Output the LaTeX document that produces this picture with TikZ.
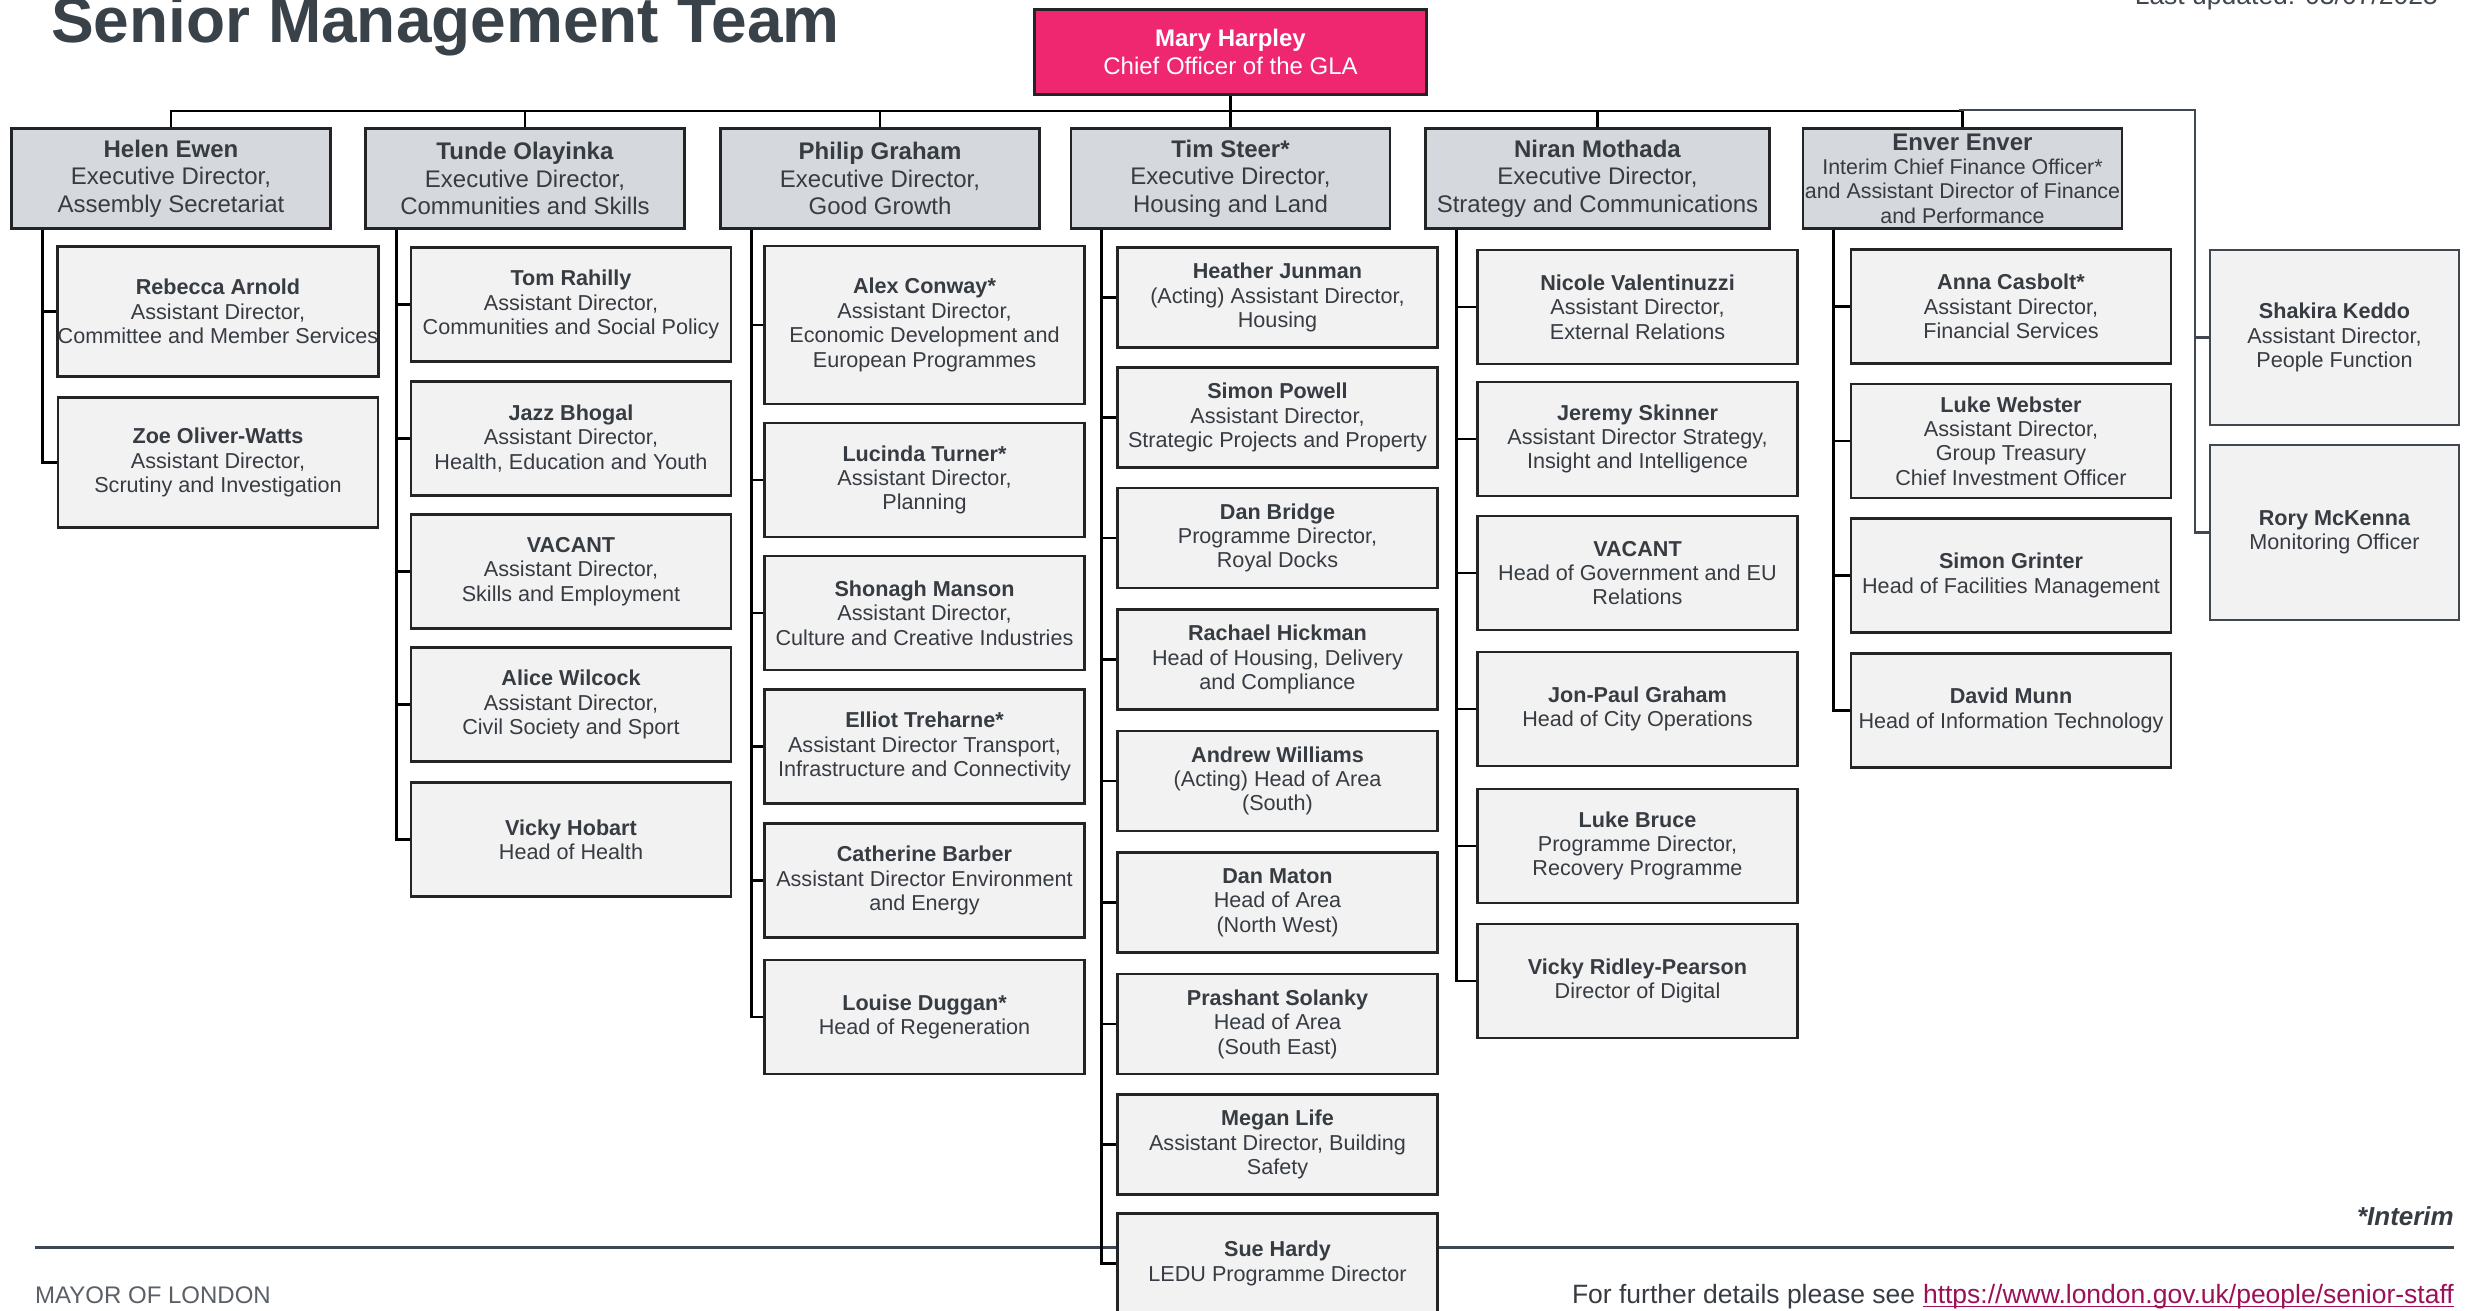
\documentclass[tikz,border=0pt]{standalone}
\usepackage{fontspec}
\setmainfont{Liberation Sans}

\definecolor{ink}{HTML}{373C42}
\definecolor{titleink}{HTML}{3A4249}
\definecolor{mutedink}{HTML}{5A6066}
\definecolor{boxline}{HTML}{222426}
\definecolor{hrline}{HTML}{40474E}
\definecolor{execfill}{HTML}{D5D9DD}
\definecolor{stafffill}{HTML}{F2F2F2}
\definecolor{glapink}{HTML}{EF2770}
\definecolor{linkred}{HTML}{9C1058}
\definecolor{ruleink}{HTML}{3D4852}

\tikzset{
	chiefbox/.style={draw=boxline, line width=2.6pt, fill=glapink, text=white, align=center, inner sep=0pt,
		minimum width=392pt, minimum height=85pt, font=\fontsize{24}{27.5}\selectfont},
	execbox/.style={draw=boxline, line width=2.6pt, fill=execfill, text=ink, align=center, inner sep=0pt,
		minimum width=319pt, minimum height=100pt, font=\fontsize{24}{27.5}\selectfont},
	staffbox/.style={draw=boxline, line width=2.6pt, fill=stafffill, text=ink, align=center, inner sep=0pt,
		minimum width=320pt, minimum height=114pt, font=\fontsize{21.6}{24.4}\selectfont},
	hrbox/.style={staffbox, draw=hrline, line width=2.2pt, minimum width=249pt, minimum height=175pt},
	link/.style={draw=black, line width=2.8pt},
	hrlink/.style={draw=hrline, line width=2.2pt},
}

\begin{document}
\begin{tikzpicture}[x=1pt, y=-1pt]
	\useasboundingbox (0,0) rectangle (2466,1311);
	\fill [white] (0,0) rectangle (2466,1311);

	% header and footer
	\node [anchor=base west, inner sep=0pt, text=titleink, font=\fontsize{64}{70}\selectfont\bfseries] (title) at (51,43) {Senior Management Team};
	\node [anchor=base east, inner sep=0pt, text=hrline, font=\fontsize{26.5}{30}\selectfont] (updated) at (2438,5) {Last updated: 03/07/2025};
	\draw [ruleink, line width=3pt] (35,1247) -- (2454,1247);
	\node [anchor=base east, inner sep=0pt, text=ink, font=\fontsize{26}{30}\selectfont\bfseries\itshape] (interim) at (2454,1225) {*Interim};
	\node [anchor=base west, inner sep=0pt, text=mutedink, font=\fontsize{24}{28}\selectfont] (mayor) at (35,1303) {MAYOR OF LONDON};
	\node [anchor=base east, inner sep=0pt, text=linkred, font=\fontsize{26.5}{30}\selectfont] (weblink) at (2454,1303) {https://www.london.gov.uk/people/senior-staff};
	\node [anchor=base east, inner sep=0pt, text=ink, font=\fontsize{26.5}{30}\selectfont] (details) at ([xshift=-7.4pt]weblink.base west) {For further details please see};
	\draw [linkred, line width=1.6pt] ([yshift=-3.5pt]weblink.base west) -- ([yshift=-3.5pt]weblink.base east);

	% chief officer
	\node [chiefbox] (mary) at (1230.5,52) {\textbf{Mary Harpley}\\Chief Officer of the GLA};

	% executive directors
	\node [execbox] (helen) at (171,178.5) {\textbf{Helen Ewen}\\Executive Director,\\Assembly Secretariat};
	\node [execbox] (tunde) at (525,178.5) {\textbf{Tunde Olayinka}\\Executive Director,\\Communities and Skills};
	\node [execbox] (philip) at (880,178.5) {\textbf{Philip Graham}\\Executive Director,\\Good Growth};
	\node [execbox] (tim) at (1230.5,178.5) {\textbf{Tim Steer*}\\Executive Director,\\Housing and Land};
	\node [execbox, minimum width=344pt] (niran) at (1597.5,178.5) {\textbf{Niran Mothada}\\Executive Director,\\Strategy and Communications};
	\node [execbox, font=\fontsize{21.4}{24.4}\selectfont] (enver) at (1962.5,178.5) {{\fontsize{24}{27}\selectfont\bfseries Enver Enver}\\Interim Chief Finance Officer*\\and Assistant Director of Finance\\and Performance};

	% Helen Ewen
	\node [staffbox, minimum height=130pt] (rebecca) at (218,311.5) {\textbf{Rebecca Arnold}\\Assistant Director,\\Committee and Member Services};
	\node [staffbox, minimum height=130pt] (zoe) at (218,462.5) {\textbf{Zoe Oliver-Watts}\\Assistant Director,\\Scrutiny and Investigation};

	% Tunde Olayinka
	\node [staffbox] (tom) at (571,304.5) {\textbf{Tom Rahilly}\\Assistant Director,\\Communities and Social Policy};
	\node [staffbox] (jazz) at (571,438.5) {\textbf{Jazz Bhogal}\\Assistant Director,\\Health, Education and Youth};
	\node [staffbox] (skills) at (571,571.5) {\textbf{VACANT}\\Assistant Director,\\Skills and Employment};
	\node [staffbox] (alice) at (571,704.5) {\textbf{Alice Wilcock}\\Assistant Director,\\Civil Society and Sport};
	\node [staffbox] (hobart) at (571,839.5) {\textbf{Vicky Hobart}\\Head of Health};

	% Philip Graham
	\node [staffbox, minimum height=158pt] (alex) at (924.5,325) {\textbf{Alex Conway*}\\Assistant Director,\\Economic Development and\\European Programmes};
	\node [staffbox] (lucinda) at (924.5,480) {\textbf{Lucinda Turner*}\\Assistant Director,\\Planning};
	\node [staffbox] (shonagh) at (924.5,613) {\textbf{Shonagh Manson}\\Assistant Director,\\Culture and Creative Industries};
	\node [staffbox] (elliot) at (924.5,746.5) {\textbf{Elliot Treharne*}\\Assistant Director Transport,\\Infrastructure and Connectivity};
	\node [staffbox] (catherine) at (924.5,880.5) {\textbf{Catherine Barber}\\Assistant Director Environment\\and Energy};
	\node [staffbox] (louise) at (924.5,1017) {\textbf{Louise Duggan*}\\Head of Regeneration};

	% Tim Steer
	\node [staffbox, minimum height=100pt] (heather) at (1277.5,297.5) {\textbf{Heather Junman}\\(Acting) Assistant Director,\\Housing};
	\node [staffbox, minimum height=100pt] (powell) at (1277.5,417.5) {\textbf{Simon Powell}\\Assistant Director,\\Strategic Projects and Property};
	\node [staffbox, minimum height=100pt] (bridge) at (1277.5,538) {\textbf{Dan Bridge}\\Programme Director,\\Royal Docks};
	\node [staffbox, minimum height=100pt] (rachael) at (1277.5,659.5) {\textbf{Rachael Hickman}\\Head of Housing, Delivery\\and Compliance};
	\node [staffbox, minimum height=100pt] (andrew) at (1277.5,781) {\textbf{Andrew Williams}\\(Acting) Head of Area\\(South)};
	\node [staffbox, minimum height=100pt] (maton) at (1277.5,902.5) {\textbf{Dan Maton}\\Head of Area\\(North West)};
	\node [staffbox, minimum height=100pt] (prashant) at (1277.5,1024) {\textbf{Prashant Solanky}\\Head of Area\\(South East)};
	\node [staffbox, minimum height=100pt] (megan) at (1277.5,1144.5) {\textbf{Megan Life}\\Assistant Director, Building\\Safety};
	\node [staffbox, minimum height=100pt] (sue) at (1277.5,1263.5) {\textbf{Sue Hardy}\\LEDU Programme Director};

	% Niran Mothada
	\node [staffbox] (nicole) at (1637.5,307) {\textbf{Nicole Valentinuzzi}\\Assistant Director,\\External Relations};
	\node [staffbox] (jeremy) at (1637.5,439) {\textbf{Jeremy Skinner}\\Assistant Director Strategy,\\Insight and Intelligence};
	\node [staffbox] (govrel) at (1637.5,573) {\textbf{VACANT}\\Head of Government and EU\\Relations};
	\node [staffbox] (jonpaul) at (1637.5,709) {\textbf{Jon-Paul Graham}\\Head of City Operations};
	\node [staffbox] (bruce) at (1637.5,846) {\textbf{Luke Bruce}\\Programme Director,\\Recovery Programme};
	\node [staffbox] (ridley) at (1637.5,981) {\textbf{Vicky Ridley-Pearson}\\Director of Digital};

	% Enver Enver
	\node [staffbox] (anna) at (2011,306.5) {\textbf{Anna Casbolt*}\\Assistant Director,\\Financial Services};
	\node [staffbox] (webster) at (2011,441) {\textbf{Luke Webster}\\Assistant Director,\\Group Treasury\\Chief Investment Officer};
	\node [staffbox] (grinter) at (2011,575.5) {\textbf{Simon Grinter}\\Head of Facilities Management};
	\node [staffbox] (munn) at (2011,710.5) {\textbf{David Munn}\\Head of Information Technology};

	% people and monitoring
	\node [hrbox] (shakira) at (2334.5,337.5) {\textbf{Shakira Keddo}\\Assistant Director,\\People Function};
	\node [hrbox] (rory) at (2334.5,532.5) {\textbf{Rory McKenna}\\Monitoring Officer};

	% top bus
	\coordinate (bus) at (1230.5,111);
	\draw [link] (mary.south) -- (tim.north);
	\draw [link] (helen.north) |- (enver.north |- bus) -- (enver.north);
	\draw [link] (tunde.north) -- (tunde.north |- bus);
	\draw [link] (philip.north) -- (philip.north |- bus);
	\draw [link] (niran.north) -- (niran.north |- bus);
	\coordinate (hrspine) at (2195,110);
	\draw [hrlink] ([xshift=-4pt]enver.north |- hrspine) -- (hrspine) |- (shakira.west);
	\draw [hrlink] (hrspine) |- (rory.west);

	% spines
	\coordinate (helenspine) at ([xshift=32pt]helen.south west);
	\coordinate (tundespine) at ([xshift=32pt]tunde.south west);
	\coordinate (philipspine) at ([xshift=32pt]philip.south west);
	\coordinate (timspine) at ([xshift=32pt]tim.south west);
	\coordinate (niranspine) at ([xshift=32pt]niran.south west);
	\coordinate (enverspine) at ([xshift=32pt]enver.south west);

	\foreach \n in {rebecca, zoe}
		\draw [link] (helenspine) |- (\n.west);
	\foreach \n in {tom, jazz, skills, alice, hobart}
		\draw [link] (tundespine) |- (\n.west);
	\foreach \n in {alex, lucinda, shonagh, elliot, catherine, louise}
		\draw [link] (philipspine) |- (\n.west);
	\foreach \n in {heather, powell, bridge, rachael, andrew, maton, prashant, megan, sue}
		\draw [link] (timspine) |- (\n.west);
	\foreach \n in {nicole, jeremy, govrel, jonpaul, bruce, ridley}
		\draw [link] (niranspine) |- (\n.west);
	\foreach \n in {anna, webster, grinter, munn}
		\draw [link] (enverspine) |- (\n.west);
\end{tikzpicture}
\end{document}
